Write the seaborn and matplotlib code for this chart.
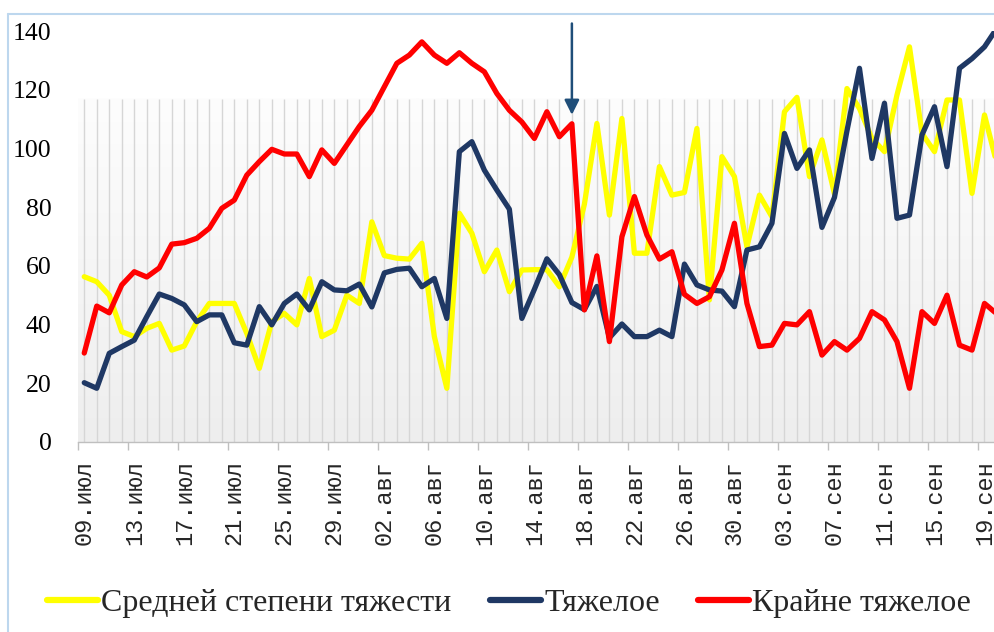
import numpy as np
import pandas as pd
import matplotlib
matplotlib.use("Agg")
import matplotlib.pyplot as plt
import seaborn as sns
from matplotlib.lines import Line2D
from matplotlib.colors import LinearSegmentedColormap

# ---- data (daily, 09 Jul .. 20 Sep) ----
moderate = [56.3, 54.6, 50, 37.6, 35.9, 38.7, 40.4, 31.3, 32.7, 41, 47.2, 47.2, 47.2, 37, 25.1,
            41, 43.8, 39.9, 55.7, 35.9, 38.1, 50, 47.2, 75, 63.5, 62.6, 62.3, 67.7, 35.9, 18.3,
            77.9, 71.1, 58, 65.4, 51.2, 58.6, 58.7, 58.7, 52.9, 63, 81, 108.5, 77.3, 110.2, 64.3,
            64.3, 93.8, 84.1, 85, 106.8, 48.4, 97.2, 90.4, 66.5, 84.1, 76.7, 112.5, 117.4, 90.4,
            102.9, 84.5, 120.4, 113.6, 103.4, 98.9, 118.2, 134.6, 105.1, 98.9, 116.5, 116.5, 84.7,
            111.4, 94.6]
severe = [20.2, 18.3, 30.2, 32.5, 34.7, 42.7, 50.4, 48.9, 46.7, 41, 43.3, 43.3, 33.8, 33, 46.1,
          39.9, 47.2, 50.4, 45, 54.6, 51.8, 51.5, 53.8, 46, 57.6, 58.8, 59.2, 52.9, 55.7, 42.1,
          98.9, 102.3, 92.6, 85.8, 79.3, 42.1, 52, 62.4, 57, 47.5, 45.1, 53, 35.5, 40.2, 35.9,
          35.9, 38.1, 35.9, 60.6, 53.5, 51.8, 51.4, 46.1, 65.4, 66.5, 74.5, 105.1, 93.2, 99.5,
          73.1, 83.3, 106, 127.3, 96.6, 115.4, 76.2, 77.3, 104.6, 114.2, 93.8, 127.3, 130.6,
          134.6, 141]
critical = [30.3, 46.3, 44, 53.5, 58, 56.2, 59.3, 67.4, 67.9, 69.4, 72.8, 79.6, 82.4, 90.9, 95.5,
            99.7, 98.1, 98.1, 90.4, 99.5, 94.9, 101.2, 107.5, 113, 121, 129, 131.8, 136.3, 131.8,
            129, 132.6, 129, 126.1, 118.7, 113, 109, 103.4, 112.5, 104, 108.4, 45, 63.4, 34.2,
            69.9, 83.6, 70.5, 62.3, 64.8, 50.3, 47.2, 49.5, 58.6, 74.5, 47.2, 32.5, 33, 40.4,
            39.9, 44.4, 29.6, 34.2, 31.3, 35.3, 44.4, 41.6, 34.2, 18.3, 44.4, 40.4, 50, 33, 31.3,
            47.2, 43.6]
tick_labels = ["09.июл", "13.июл", "17.июл", "21.июл", "25.июл", "29.июл", "02.авг", "06.авг",
               "10.авг", "14.авг", "18.авг", "22.авг", "26.авг", "30.авг", "03.сен", "07.сен",
               "11.сен", "15.сен", "19.сен"]
series_names = ["Средней степени тяжести", "Тяжелое", "Крайне тяжелое"]
series_colors = ["#FFFF00", "#1F3864", "#FF0000"]
arrow_day = 39

days = np.arange(len(moderate))
df = pd.DataFrame({"day": days, series_names[0]: moderate,
                   series_names[1]: severe, series_names[2]: critical})
long = df.melt(id_vars="day", var_name="series", value_name="value")

sns.set_theme(style="white")
plt.rcParams["font.family"] = ["Liberation Serif", "DejaVu Serif"]

fig = plt.figure(figsize=(9.94, 6.32), dpi=100)
W, H = 994, 632
ax = fig.add_axes([78 / W, 1 - 442 / H, 916 / W, 411 / H])
ax.set_xlim(-0.5, 72.76)
ax.set_ylim(0, 140)

# gradient backdrop with daily drop lines
grad = LinearSegmentedColormap.from_list("g", ["#EEEEEE", "#FDFDFD"])
ax.imshow(np.linspace(0, 1, 256).reshape(-1, 1), cmap=grad, origin="lower",
          extent=(-0.5, 74, 0, 117), aspect="auto", zorder=0)
ax.vlines(days, 0, 117, color="#D6D6D6", lw=1, zorder=1)

sns.lineplot(data=long, x="day", y="value", hue="series", hue_order=series_names,
             palette=series_colors, linewidth=3.8, ax=ax, legend=False, zorder=3,
             solid_joinstyle="round", solid_capstyle="round")

# arrow
ax.annotate("", xy=(arrow_day, 110.5), xytext=(arrow_day, 143.5),
            arrowprops=dict(arrowstyle="-|>", color="#1F4E79", lw=1.8, mutation_scale=22),
            annotation_clip=False, zorder=5)

# axes styling
for s in ["top", "right", "left"]:
    ax.spines[s].set_visible(False)
ax.spines["bottom"].set_color("#BFBFBF")
ax.spines["bottom"].set_linewidth(1)
ax.set_xlabel("")
ax.set_ylabel("")
ax.set_yticks(np.arange(0, 141, 20))
ax.tick_params(axis="y", length=0, pad=19, labelsize=18.5, labelcolor="#000000")
ax.set_xticks(np.arange(0, 73, 4))
ax.set_xticklabels(tick_labels, rotation=90, family=["Liberation Mono", "DejaVu Sans Mono"],
                   fontsize=17)
ax.set_xticks(np.arange(-0.5, 73, 4), minor=True)
ax.tick_params(axis="x", which="major", length=0, pad=13)
ax.tick_params(axis="x", which="minor", length=6, color="#BFBFBF", width=1, bottom=True)
ax.grid(False)
ax.set_facecolor("white")

# legend
handles = [Line2D([0], [0], color=c, lw=4.5) for c in series_colors]
fig.legend(handles, series_names, loc="center", bbox_to_anchor=(509 / W, 1 - 603 / H),
           ncol=3, frameon=False, fontsize=23, handlelength=1.6, handletextpad=0.1,
           columnspacing=1.2)

# chart frame (light blue)
fig.add_artist(Line2D([8 / W, 1.0], [1 - 14 / H, 1 - 14 / H], color="#BDD7EE", lw=1.5,
                      transform=fig.transFigure))
fig.add_artist(Line2D([8 / W, 8 / W], [1 - 14 / H, 0], color="#BDD7EE", lw=1.5,
                      transform=fig.transFigure))

fig.savefig("out.png", dpi=100)
